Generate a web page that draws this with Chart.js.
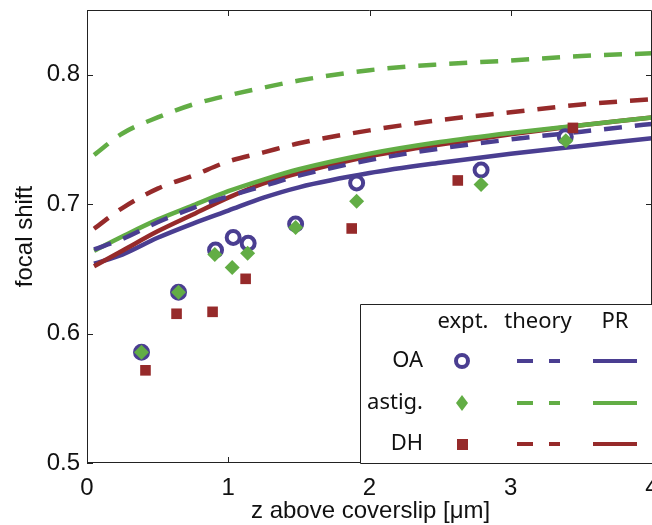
<!DOCTYPE html>
<html>
<head>
<meta charset="utf-8">
<script src="https://cdn.jsdelivr.net/npm/chart.js@4"></script>
<style>
	html, body { margin: 0; padding: 0; background: #fff; }
	#wrap { width: 652px; height: 525px; }
</style>
</head>
<body>
<div id="wrap"><canvas id="grafico"></canvas></div>
<script>
// curvas teoricas (z en um)
const zCurva = [0.05, 0.25, 0.5, 0.75, 1, 1.25, 1.5, 2, 2.5, 3, 3.5, 4];
const teoriaOA = [0.665, 0.673, 0.686, 0.697, 0.706, 0.714, 0.722, 0.734, 0.743, 0.750, 0.756, 0.762];
const teoriaAstig = [0.738, 0.7546, 0.767, 0.777, 0.784, 0.790, 0.7955, 0.8035, 0.808, 0.811, 0.8145, 0.8165];
const teoriaDH = [0.681, 0.697, 0.712, 0.722, 0.733, 0.740, 0.747, 0.757, 0.765, 0.771, 0.777, 0.781];
const prOA = [0.654, 0.661, 0.674, 0.685, 0.695, 0.705, 0.713, 0.724, 0.732, 0.739, 0.745, 0.751];
const prAstig = [0.664, 0.675, 0.688, 0.699, 0.710, 0.719, 0.727, 0.739, 0.748, 0.755, 0.761, 0.767];
const prDH = [0.652, 0.664, 0.679, 0.692, 0.705, 0.716, 0.724, 0.737, 0.746, 0.754, 0.761, 0.767];

// medidas experimentales
const zOA = [0.386, 0.648, 0.910, 1.035, 1.141, 1.477, 1.909, 2.79, 3.386];
const expOA = [0.5855, 0.632, 0.6645, 0.6743, 0.6697, 0.6846, 0.7164, 0.7263, 0.752];
const zAstig = [0.386, 0.648, 0.905, 1.028, 1.137, 1.477, 1.909, 2.79, 3.39];
const expAstig = [0.5855, 0.632, 0.661, 0.651, 0.662, 0.682, 0.7023, 0.7152, 0.749];
const zDH = [0.414, 0.634, 0.889, 1.123, 1.874, 2.625, 3.44];
const expDH = [0.5716, 0.6153, 0.6168, 0.6423, 0.6812, 0.7183, 0.7589];

const ticksX = [0, 1, 2, 3, 4];
const ticksY = [0.5, 0.6, 0.7, 0.8];

const filas = ['OA', 'astig.', 'DH'];
const columnas = ['expt.', 'theory', 'PR'];

const azul = '#4a3e91';
const verde = '#62ad45';
const rojo = '#962a2a';

const fuente = "'Liberation Sans', Arial, sans-serif";

const puntos = (xs, ys) => xs.map((x, i) => ({ x: x, y: ys[i] }));

function curva(ys, color, punteada) {
	return {
		data: puntos(zCurva, ys),
		showLine: true,
		borderColor: color,
		borderWidth: 4.5,
		borderDash: punteada ? [18, 13] : [],
		pointRadius: 0,
		cubicInterpolationMode: 'monotone',
		fill: false,
	};
}

// marco con ticks hacia adentro, titulo x y leyenda
const marco = {
	id: 'marco',
	afterDatasetsDraw(chart) {
		const { ctx, chartArea: a, scales } = chart;
		const sx = scales.x;
		const sy = scales.y;
		ctx.save();
		ctx.strokeStyle = '#222';
		ctx.lineWidth = 1;
		ctx.beginPath();
		ctx.rect(a.left + 0.5, a.top + 0.5, a.right - a.left - 1, a.bottom - a.top - 1);
		ctx.stroke();
		const largo = 6;
		ctx.beginPath();
		ticksX.forEach((v) => {
			const px = Math.round(sx.getPixelForValue(v)) + 0.5;
			ctx.moveTo(px, a.bottom);
			ctx.lineTo(px, a.bottom - largo);
			ctx.moveTo(px, a.top);
			ctx.lineTo(px, a.top + largo);
		});
		ticksY.forEach((v) => {
			const py = Math.round(sy.getPixelForValue(v)) + 0.5;
			ctx.moveTo(a.left, py);
			ctx.lineTo(a.left + largo, py);
			ctx.moveTo(a.right, py);
			ctx.lineTo(a.right - largo, py);
		});
		ctx.stroke();

		// titulo eje x
		ctx.fillStyle = '#111';
		ctx.font = '24px ' + fuente;
		ctx.textAlign = 'left';
		ctx.textBaseline = 'alphabetic';
		ctx.fillText('z above coverslip [\u03bcm]', 251, 518);

		// leyenda
		const bx = 360, by = 304;
		ctx.fillStyle = '#fff';
		ctx.fillRect(bx, by, 700 - bx, a.bottom - by);
		ctx.strokeStyle = '#222';
		ctx.beginPath();
		ctx.rect(bx + 0.5, by + 0.5, 700, a.bottom - by);
		ctx.stroke();

		ctx.font = "22px 'Noto Sans', sans-serif";
		ctx.fillStyle = '#111';
		ctx.textBaseline = 'middle';
		ctx.textAlign = 'center';
		const colX = [463, 538, 615];
		columnas.forEach((t, i) => ctx.fillText(t, colX[i], 322));
		const filaY = [361, 403, 444];
		ctx.textAlign = 'right';
		filas.forEach((t, i) => ctx.fillText(t, 423, filaY[i]));

		const colores = [azul, verde, rojo];
		colores.forEach((c, i) => {
			const y = filaY[i];
			// marcador
			ctx.fillStyle = c;
			ctx.strokeStyle = c;
			ctx.setLineDash([]);
			if (i === 0) {
				ctx.lineWidth = 4;
				ctx.beginPath();
				ctx.arc(462, y, 6, 0, Math.PI * 2);
				ctx.stroke();
			} else if (i === 1) {
				ctx.beginPath();
				ctx.moveTo(462, y - 8);
				ctx.lineTo(468, y);
				ctx.lineTo(462, y + 8);
				ctx.lineTo(456, y);
				ctx.closePath();
				ctx.fill();
			} else {
				ctx.fillRect(457, y - 5, 11, 11);
			}
			ctx.lineWidth = 4;
			ctx.setLineDash([16, 16]);
			ctx.beginPath();
			ctx.moveTo(517, y);
			ctx.lineTo(560, y);
			ctx.stroke();
			ctx.setLineDash([]);
			ctx.beginPath();
			ctx.moveTo(593, y);
			ctx.lineTo(637, y);
			ctx.stroke();
		});
		ctx.restore();
	},
};

const ctx = document.getElementById('grafico').getContext('2d');

new Chart(ctx, {
	type: 'scatter',
	data: {
		datasets: [
			{
				data: puntos(zDH, expDH),
				pointStyle: 'rect',
				pointRadius: 7.5,
				backgroundColor: rojo,
				borderColor: rojo,
				borderWidth: 0,
			},
			{
				data: puntos(zAstig, expAstig),
				pointStyle: 'rectRot',
				pointRadius: 7.5,
				backgroundColor: verde,
				borderColor: verde,
				borderWidth: 0,
			},
			{
				data: puntos(zOA, expOA),
				pointStyle: 'circle',
				pointRadius: 6.5,
				backgroundColor: 'rgba(255,255,255,0)',
				borderColor: azul,
				borderWidth: 4,
			},
			curva(teoriaOA, azul, true),
			curva(prAstig, verde, false),
			curva(prDH, rojo, false),
			curva(prOA, azul, false),
			curva(teoriaDH, rojo, true),
			curva(teoriaAstig, verde, true),
		],
	},
	options: {
		responsive: true,
		maintainAspectRatio: false,
		animation: false,
		layout: {
			autoPadding: false,
			padding: { top: 10, right: 0, left: 0, bottom: 0 },
		},
		plugins: {
			legend: { display: false },
			tooltip: { enabled: false },
		},
		scales: {
			x: {
				type: 'linear',
				min: 0,
				max: 4,
				grid: { display: false, drawTicks: false },
				border: { display: false },
				afterBuildTicks: (s) => { s.ticks = ticksX.map((v) => ({ value: v })); },
				afterFit: (s) => {
					s.height = 62;
					s.paddingLeft = 0;
					s.paddingRight = 0;
				},
				ticks: {
					padding: 11,
					color: '#111',
					font: { family: fuente, size: 24 },
				},
			},
			y: {
				min: 0.5,
				max: 0.85,
				grid: { display: false, drawTicks: false },
				border: { display: false },
				afterBuildTicks: (s) => { s.ticks = ticksY.map((v) => ({ value: v })); },
				afterFit: (s) => {
					s.width = 87;
					s.paddingTop = 0;
					s.paddingBottom = 0;
				},
				ticks: {
					padding: 7,
					color: '#111',
					font: { family: fuente, size: 24 },
					callback: (v) => v.toFixed(1),
				},
				title: {
					display: true,
					text: 'focal shift',
					color: '#111',
					padding: { top: 11, bottom: 0 },
					font: { family: fuente, size: 24 },
				},
			},
		},
	},
	plugins: [marco],
});
</script>
</body>
</html>
